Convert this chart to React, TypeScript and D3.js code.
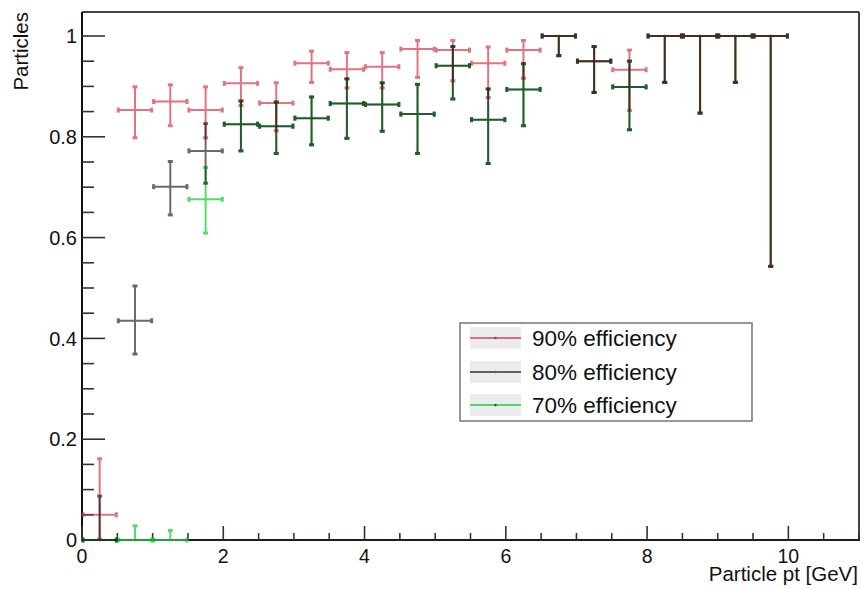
import React from "react";
import * as d3 from "d3";

// Bin centers (GeV), bin half-width 0.25
const binCenters = [0.25, 0.75, 1.25, 1.75, 2.25, 2.75, 3.25, 3.75, 4.25, 4.75, 5.25, 5.75, 6.25, 6.75, 7.25, 7.75, 8.25, 8.75, 9.25, 9.75];
const binHalfWidth = 0.25;

// 90% efficiency
const eff90 = [0.05, 0.853, 0.870, 0.853, 0.906, 0.867, 0.946, 0.934, 0.939, 0.974, 0.972, 0.946, 0.972, 1.0, 0.95, 0.933, 1, 1, 1, 1];
const eff90Hi = [0.163, 0.901, 0.905, 0.901, 0.939, 0.909, 0.972, 0.969, 0.969, 0.993, 0.993, 0.980, 0.993, 1, 0.981, 0.974, 1, 1, 1, 1];
const eff90Lo = [0, 0.796, 0.820, 0.796, 0.86, 0.810, 0.906, 0.895, 0.895, 0.916, 0.909, 0.876, 0.914, 0.959, 0.886, 0.850, 0.906, 0.845, 0.906, 0.541];

// 80% efficiency
const eff80 = [0, 0.435, 0.701, 0.772, 0.825, 0.821, 0.837, 0.866, 0.864, 0.845, 0.941, 0.834, 0.894, 1.0, 0.950, 0.899, 1, 1, 1, 1];
const eff80Hi = [0.089, 0.506, 0.753, 0.828, 0.873, 0.871, 0.881, 0.917, 0.909, 0.906, 0.981, 0.897, 0.947, 1, 0.981, 0.952, 1, 1, 1, 1];
const eff80Lo = [0, 0.367, 0.643, 0.706, 0.770, 0.765, 0.782, 0.795, 0.809, 0.765, 0.873, 0.745, 0.820, 0.959, 0.886, 0.812, 0.906, 0.845, 0.906, 0.541];

// 70% efficiency
const eff70 = [0, 0, 0, 0.676, 0.825, 0.821, 0.837, 0.866, 0.864, 0.845, 0.941, 0.834, 0.894, 1.0, 0.950, 0.899, 1, 1, 1, 1];
const eff70Hi = [0, 0.030, 0.021, 0.741, 0.873, 0.871, 0.881, 0.917, 0.909, 0.906, 0.981, 0.897, 0.947, 1, 0.981, 0.952, 1, 1, 1, 1];
const eff70Lo = [0, 0, 0, 0.607, 0.770, 0.765, 0.782, 0.795, 0.809, 0.765, 0.873, 0.745, 0.820, 0.959, 0.886, 0.812, 0.906, 0.845, 0.906, 0.541];

const seriesNames = ["90% efficiency", "80% efficiency", "70% efficiency"];

const xMajorTicks = [0, 2, 4, 6, 8, 10];
const yMajorTicks = [0, 0.2, 0.4, 0.6, 0.8, 1];
const yTickLabels = ["0", "0.2", "0.4", "0.6", "0.8", "1"];

const FONT = "'Liberation Sans', Arial, Helvetica, sans-serif";

type Series = { name: string; vals: (number | null)[]; hi: (number | null)[]; lo: (number | null)[]; color: string; opacity: number };

const series: Series[] = [
  { name: seriesNames[0], vals: eff90, hi: eff90Hi, lo: eff90Lo, color: "#d42a3c", opacity: 0.65 },
  { name: seriesNames[1], vals: eff80, hi: eff80Hi, lo: eff80Lo, color: "#000000", opacity: 0.58 },
  { name: seriesNames[2], vals: eff70, hi: eff70Hi, lo: eff70Lo, color: "#1ecf3a", opacity: 0.75 },
];
// draw order: green, red, black
const drawOrder = [2, 0, 1];

export default function App() {
  const W = 863, H = 589;
  const x = d3.scaleLinear().domain([0, 11]).range([82, 859]);
  const y = d3.scaleLinear().domain([0, 1.0476]).range([540, 12]);

  const xMinor = d3.range(0, 11.01, 0.5).filter((v) => Math.abs(v / 2 - Math.round(v / 2)) > 1e-6);
  const yMinor = d3.range(0, 1.0476, 0.05).filter((v) => Math.abs(v / 0.2 - Math.round(v / 0.2)) > 1e-6);

  const cap = (cx: number, cy: number, vertical: boolean, color: string, key: string) =>
    vertical ? (
      <rect key={key} x={cx - 2.5} y={cy - 1.5} width={5} height={3} fill={color} />
    ) : (
      <rect key={key} x={cx - 1.5} y={cy - 2.5} width={3} height={5} fill={color} />
    );

  const renderSeries = (s: Series, si: number) => (
    <g key={si} opacity={s.opacity}>
      {binCenters.map((c, i) => {
        const v = s.vals[i];
        if (v === null || v === undefined) return null;
        const hi = s.hi[i] as number;
        const lo = s.lo[i] as number;
        const cx = x(c), cy = y(v);
        const x0 = x(c - binHalfWidth), x1 = x(c + binHalfWidth);
        const els: JSX.Element[] = [];
        els.push(<line key="h" x1={x0} x2={x1} y1={cy} y2={cy} stroke={s.color} strokeWidth={2} />);
        els.push(cap(x0 + 1, cy, false, s.color, "hl"));
        els.push(cap(x1 - 1, cy, false, s.color, "hr"));
        if (hi > v) {
          els.push(<line key="vu" x1={cx} x2={cx} y1={cy} y2={y(hi)} stroke={s.color} strokeWidth={2} />);
          els.push(cap(cx, y(hi) + 1, true, s.color, "cu"));
        }
        if (lo < v) {
          els.push(<line key="vd" x1={cx} x2={cx} y1={cy} y2={y(lo)} stroke={s.color} strokeWidth={2} />);
          els.push(cap(cx, y(lo) - 1, true, s.color, "cd"));
        }
        els.push(<circle key="m" cx={cx} cy={cy} r={1.2} fill={s.color} />);
        return <g key={i}>{els}</g>;
      })}
    </g>
  );

  const legendY = [338, 372, 405];

  return (
    <svg width={W} height={H} style={{ position: "absolute", left: 0, top: 0, background: "#fff" }} fontFamily={FONT}>
      <rect x={0} y={0} width={W} height={H} fill="#fff" />
      {/* frame */}
      <line x1={82} x2={859} y1={12} y2={12} stroke="#444" strokeWidth={2} />
      <line x1={859} x2={859} y1={12} y2={540} stroke="#444" strokeWidth={2} />
      {/* y axis */}
      <line x1={82} x2={82} y1={12} y2={541} stroke="#111" strokeWidth={2} />
      {yMajorTicks.map((t, i) => (
        <g key={"ym" + i}>
          <line x1={82} x2={105} y1={y(t)} y2={y(t)} stroke="#333" strokeWidth={1.6} />
          <text x={77} y={y(t)} dy="0.36em" textAnchor="end" fontSize={20} fill="#111">{yTickLabels[i]}</text>
        </g>
      ))}
      {yMinor.map((t, i) => (
        <line key={"yn" + i} x1={82} x2={94} y1={y(t)} y2={y(t)} stroke="#333" strokeWidth={1.6} />
      ))}
      {/* x axis */}
      <line x1={81} x2={860} y1={540} y2={540} stroke="#1a1a33" strokeWidth={2} />
      {xMajorTicks.map((t, i) => (
        <g key={"xm" + i}>
          <line x1={x(t)} x2={x(t)} y1={540} y2={526} stroke="#333" strokeWidth={1.6} />
          <text x={x(t)} y={563} textAnchor="middle" fontSize={19.5} fill="#111">{String(t)}</text>
        </g>
      ))}
      {xMinor.map((t, i) => (
        <line key={"xn" + i} x1={x(t)} x2={x(t)} y1={540} y2={533} stroke="#333" strokeWidth={1.6} />
      ))}
      {/* axis titles */}
      <text transform="translate(28,12) rotate(-90)" textAnchor="end" fontSize={20.5} fill="#111">Particles</text>
      <text x={858} y={581} textAnchor="end" fontSize={20.5} fill="#111">Particle pt [GeV]</text>

      {/* data */}
      {drawOrder.map((si) => renderSeries(series[si], si))}

      {/* legend */}
      <rect x={460} y={323} width={292} height={98} fill="#fff" stroke="#777" strokeWidth={1.5} />
      {series.map((s, i) => (
        <g key={"lg" + i}>
          <rect x={470} y={legendY[i] - 11} width={51} height={22} fill="#ececec" />
          <g opacity={s.opacity}>
            <line x1={470} x2={521} y1={legendY[i]} y2={legendY[i]} stroke={s.color} strokeWidth={2} />
            <circle cx={495.5} cy={legendY[i]} r={1.2} fill="#000" />
          </g>
          <text x={532} y={legendY[i]} dy="0.36em" fontSize={22.5} fill="#111">{s.name}</text>
        </g>
      ))}
    </svg>
  );
}
